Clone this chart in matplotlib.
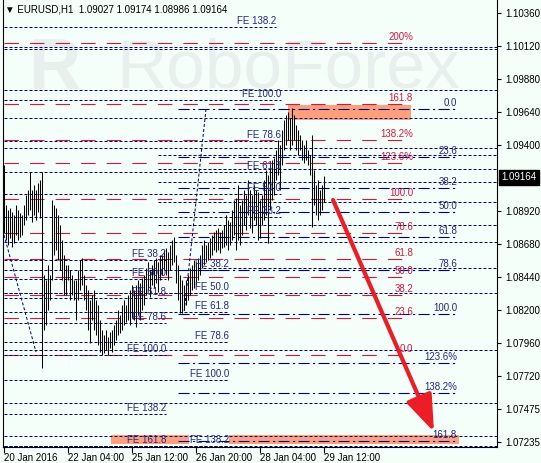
import matplotlib
matplotlib.use("Agg")
import matplotlib.pyplot as plt
from matplotlib.patches import Rectangle
from matplotlib.transforms import blended_transform_factory

# EURUSD H1 bars, one per hour from 20 Jan 2016 00:00
highs = [1.09255, 1.08963, 1.08927, 1.08942, 1.08912, 1.08891, 1.08963, 1.08927, 1.08905, 1.08891,
         1.08963, 1.09036, 1.09073, 1.09204, 1.09073, 1.09109, 1.09073, 1.09124, 1.09146, 1.09204,
         1.08453, 1.08417, 1.08526, 1.08453, 1.09000, 1.08963, 1.08942, 1.08891, 1.08818, 1.08708,
         1.08599, 1.08526, 1.08526, 1.08490, 1.08453, 1.08417, 1.08417, 1.08490, 1.08563, 1.08577,
         1.08453, 1.08380, 1.08344, 1.08271, 1.08307, 1.08344, 1.08271, 1.08235, 1.08125, 1.08052,
         1.08016, 1.08052, 1.08001, 1.08038, 1.08052, 1.08089, 1.08125, 1.08198, 1.08162, 1.08235,
         1.08271, 1.08235, 1.08307, 1.08344, 1.08380, 1.08344, 1.08380, 1.08417, 1.08395, 1.08432,
         1.08453, 1.08504, 1.08548, 1.08490, 1.08526, 1.08563, 1.08577, 1.08548, 1.08599, 1.08599,
         1.08636, 1.08650, 1.08621, 1.08672, 1.08708, 1.08730, 1.08599, 1.08526, 1.08453, 1.08417,
         1.08380, 1.08417, 1.08453, 1.08504, 1.08526, 1.08563, 1.08548, 1.08577, 1.08599, 1.08672,
         1.08708, 1.08672, 1.08694, 1.08723, 1.08745, 1.08767, 1.08781, 1.08796, 1.08767, 1.08781,
         1.08818, 1.08891, 1.08854, 1.08840, 1.08927, 1.09000, 1.09014, 1.09109, 1.08963, 1.09000,
         1.09073, 1.09036, 1.09146, 1.09073, 1.09036, 1.09109, 1.09073, 1.09058, 1.09000, 1.09036,
         1.09146, 1.09219, 1.09182, 1.09255, 1.09292, 1.09306, 1.09365, 1.09437, 1.09401, 1.09510,
         1.09583, 1.09620, 1.09642, 1.09598, 1.09671, 1.09620, 1.09547, 1.09510, 1.09474, 1.09437,
         1.09401, 1.09437, 1.09365, 1.09328, 1.09474, 1.09219, 1.09109, 1.09146, 1.09073, 1.09109,
         1.09174]
lows = [1.08760, 1.08708, 1.08672, 1.08723, 1.08657, 1.08687, 1.08745, 1.08708, 1.08730, 1.08745,
        1.08818, 1.08854, 1.08891, 1.08927, 1.08840, 1.08891, 1.08854, 1.08912, 1.08869, 1.07775,
        1.08052, 1.08089, 1.08198, 1.08271, 1.08417, 1.08599, 1.08636, 1.08563, 1.08490, 1.08417,
        1.08307, 1.08307, 1.08417, 1.08271, 1.08307, 1.08271, 1.08125, 1.08271, 1.08344, 1.08380,
        1.08271, 1.08198, 1.08052, 1.07958, 1.08125, 1.08052, 1.08016, 1.07943, 1.07892, 1.07870,
        1.07885, 1.07907, 1.07870, 1.07921, 1.07892, 1.07943, 1.07979, 1.08016, 1.08030, 1.08052,
        1.08089, 1.08111, 1.08125, 1.08089, 1.08140, 1.08125, 1.08074, 1.08162, 1.08125, 1.08198,
        1.08235, 1.08307, 1.08344, 1.08293, 1.08380, 1.08359, 1.08395, 1.08329, 1.08417, 1.08453,
        1.08490, 1.08453, 1.08417, 1.08490, 1.08526, 1.08548, 1.08395, 1.08271, 1.08176, 1.08176,
        1.08198, 1.08235, 1.08271, 1.08307, 1.08344, 1.08359, 1.08380, 1.08417, 1.08453, 1.08504,
        1.08526, 1.08548, 1.08563, 1.08577, 1.08599, 1.08636, 1.08621, 1.08636, 1.08614, 1.08650,
        1.08657, 1.08672, 1.08636, 1.08672, 1.08708, 1.08745, 1.08636, 1.08708, 1.08672, 1.08745,
        1.08818, 1.08781, 1.08891, 1.08796, 1.08760, 1.08854, 1.08818, 1.08708, 1.08723, 1.08818,
        1.08854, 1.08891, 1.08687, 1.08927, 1.09000, 1.09036, 1.09146, 1.09182, 1.09073, 1.09255,
        1.09365, 1.09401, 1.09437, 1.09365, 1.09401, 1.09437, 1.09365, 1.09328, 1.09365, 1.09292,
        1.09270, 1.09292, 1.09255, 1.09182, 1.08803, 1.08963, 1.08891, 1.08854, 1.08891, 1.08927,
        1.08986]

header = "EURUSD,H1  1.09027 1.09174 1.08986 1.09164"
last_price = 1.09164

# fibo expansion levels (navy dotted): price, first bar, last bar, text
fe_price = [1.10261, 1.10115, 1.10101, 1.09802, 1.09729, 1.09598, 1.09430, 1.09379, 1.09328,
            1.09226, 1.09204, 1.09131, 1.09044, 1.08985, 1.08876, 1.08818, 1.08694, 1.08563,
            1.08504, 1.08490, 1.08424, 1.08322, 1.08322, 1.08286, 1.08183, 1.08103, 1.07965,
            1.07907, 1.07870, 1.07688, 1.07520, 1.07440, 1.07280, 1.07207, 1.07207, 1.07207]
fe_start = [0, 0, 0, 0, 0, 0, 0, 0, 77, 77, 0, 77, 0, 77, 0, 77, 0, 0,
            97, 0, 0, 0, 0, 0, 0, 0, 0, 0, 0, 0, 0, 0, 0, 0, 0, 0]
fe_end = [136, 247, 247, 247, 138.5, 247, 138.5, 247, 247, 247, 138.5, 247, 138.5, 247, 138.5,
          247, 247, 81, 247, 112.5, 81, 247, 112.5, 81, 112.5, 81, 112.5, 247, 81, 112.5, 247,
          81, 247, 247, 81, 112.5]
fe_text = ["FE 138.2", "", "FE 78.6", "FE 61.8", "FE 100.0", "FE 50.0", "FE 78.6", "FE 38.2",
           "FE 38.2", "FE 50.0", "FE 61.8", "FE 61.8", "FE 50.0", "FE 78.6", "FE 38.2",
           "FE 100.0", "FE 100.0", "FE 38.2", "FE 138.2", "FE 38.2", "FE 50.0", "FE 161.8",
           "FE 50.0", "FE 61.8", "FE 61.8", "FE 78.6", "FE 78.6", "FE 78.6", "FE 100.0",
           "FE 100.0", "FE 261.8", "FE 138.2", "FE 61.8", "FE 300.0", "FE 161.8", "FE 138.2"]

# red retracement / extension grid
red_price = [1.10145, 1.09700, 1.09437, 1.09270, 1.09007, 1.08760, 1.08570, 1.08439,
             1.08307, 1.08140, 1.07870]
red_text = ["200%", "161.8", "138.2%", "123.6%", "100.0", "78.6", "61.8", "50.0",
            "38.2", "23.6", "0.0"]
red_span = (0, 203.5)

# navy dash-dot grid
dd_price = [1.09663, 1.09313, 1.09087, 1.08912, 1.08730, 1.08490, 1.08169, 1.07812,
            1.07593, 1.07243]
dd_text = ["0.0", "23.6", "38.2", "50.0", "61.8", "78.6", "100.0", "123.6%", "138.2%", "161.8"]
dd_span = (87, 226.5)

# trend lines (bar, price)
trend_a = [(0, 1.08745), (16, 1.07892)]
trend_b = [(101, 1.09663), (90, 1.08176)]

# target zones: bar from, bar to, price low, price high
zones = [(142, 203.5, 1.09583, 1.09693),
         (53.5, 92.5, 1.07221, 1.07287),
         (112.5, 227.5, 1.07221, 1.07287)]

arrow_from = (164.5, 1.09000)
arrow_to = (215, 1.07309)

yticks = [1.10360, 1.10120, 1.09880, 1.09640, 1.09400, 1.08920, 1.08680, 1.08440,
          1.08200, 1.07960, 1.07720, 1.07475, 1.07235]
xtick_bars = [0, 32, 64, 96, 128, 160]
xtick_text = ["20 Jan 2016", "22 Jan 04:00", "25 Jan 12:00", "26 Jan 20:00",
              "28 Jan 04:00", "29 Jan 12:00"]

plt.rcParams['font.family'] = ['Liberation Sans', 'DejaVu Sans']

bg = '#F5FFFA'
navy = '#000080'
label_navy = '#25258a'
red = '#DC143C'
fs = 7

fig = plt.figure(figsize=(5.41, 4.63), dpi=100, facecolor=bg)
ax = fig.add_axes([3 / 541, 16 / 463, 494 / 541, 447 / 463], facecolor=bg)
ax.set_xlim(-0.5, 246.5)
ax.set_ylim(1.07199, 1.10458)

# watermark
ax.text(12, 1.09948, "R", fontsize=52, fontweight='bold', color='#E8F0ED',
        va='center', ha='left', zorder=0)
ax.text(56, 1.09948, "RoboForex", fontsize=50, color='#E8F0ED', va='center', ha='left', zorder=0)

for x0, x1, p0, p1 in zones:
    ax.add_patch(Rectangle((x0, p0), x1 - x0, p1 - p0, facecolor='#FFA07A', edgecolor='none', zorder=1))

for p, t in zip(red_price, red_text):
    ax.plot(red_span, [p, p], color=red, lw=0.8, linestyle=(0, (13, 10)), zorder=2)
    ax.annotate(t, (red_span[1] + 1, p), xytext=(0, 0.5), textcoords='offset points',
                ha='right', va='bottom', fontsize=fs, color=red, zorder=5)

for p, t in zip(dd_price, dd_text):
    ax.plot(dd_span, [p, p], color=navy, lw=0.8, linestyle=(0, (10, 3, 2, 3)), zorder=2)
    ax.annotate(t, (dd_span[1], p), xytext=(0, 0.5), textcoords='offset points',
                ha='right', va='bottom', fontsize=fs, color=label_navy, zorder=5)

for p, s, e, t in zip(fe_price, fe_start, fe_end, fe_text):
    ax.plot([s, e], [p, p], color=navy, lw=0.72, linestyle=(0, (3, 2)), zorder=2)
    if t:
        ax.annotate(t, (e, p), xytext=(0, 0.5), textcoords='offset points',
                    ha='right', va='bottom', fontsize=fs, color=label_navy, zorder=5)

for tl in (trend_a, trend_b):
    ax.plot([tl[0][0], tl[1][0]], [tl[0][1], tl[1][1]], color=navy, lw=0.72,
            linestyle=(0, (3, 2)), zorder=2)

ax.vlines(range(len(highs)), lows, highs, color='black', lw=0.75, zorder=3)

ax.annotate('', xy=arrow_to, xytext=arrow_from,
            arrowprops=dict(arrowstyle='-|>,head_length=1.5,head_width=0.55', color='#EE1C25',
                            lw=3, mutation_scale=15, shrinkA=0, shrinkB=0), zorder=6)

ax.yaxis.tick_right()
ax.set_yticks(yticks)
ax.set_yticklabels(["%.5f" % v for v in yticks])
ax.tick_params(axis='y', length=3, width=0.8, labelsize=fs, pad=3)
ax.set_xticks(xtick_bars)
ax.set_xticklabels(xtick_text, ha='left')
ax.tick_params(axis='x', length=4, width=0.8, labelsize=fs, pad=0.5)
ax.spines['top'].set_visible(False)
for side in ('left', 'right', 'bottom'):
    ax.spines[side].set_linewidth(0.8)

tr = blended_transform_factory(ax.transAxes, ax.transData)
ax.text(1.0 + 4 / 494, last_price, "%.5f" % last_price, transform=tr, color='white', fontsize=fs,
        va='center', ha='left', bbox=dict(boxstyle='square,pad=0.25', fc='black', ec='black'))

fig.text(5 / 541, 1 - 10 / 463, "\u25bc " + header, fontsize=7, va='center', ha='left')

plt.savefig("out.png", dpi=100, facecolor=bg)
